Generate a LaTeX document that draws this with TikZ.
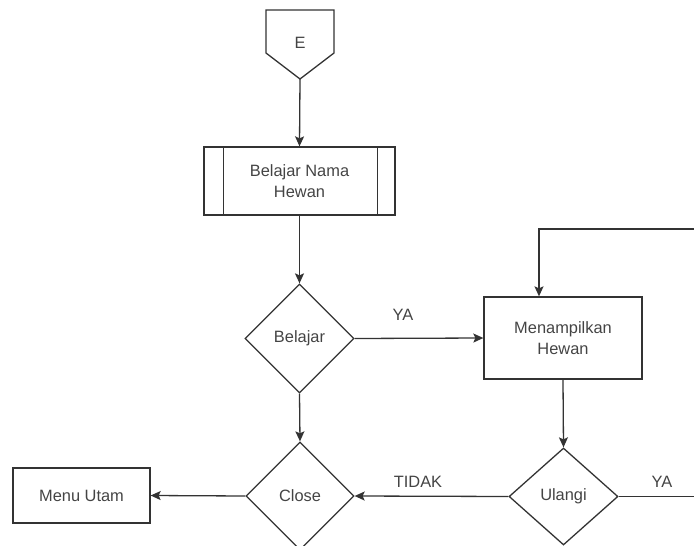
\documentclass[tikz,border=0pt]{standalone}
\usepackage{fontspec}
\setmainfont{Liberation Sans}
\usetikzlibrary{shapes.geometric,arrows.meta}
\definecolor{linec}{HTML}{333333}
\definecolor{textc}{HTML}{444444}
\begin{document}
\begin{tikzpicture}[x=1pt,y=-1pt,
  every node/.style={font=\fontsize{16.4}{21}\selectfont,text=textc},
  box/.style={draw=linec,line width=1.3pt,rectangle,inner sep=0pt,align=center},
  decision/.style={draw=linec,line width=1.3pt,diamond,aspect=1,inner sep=0pt},
  lbl/.style={inner sep=0pt},
  flow/.style={draw=linec,line width=1.3pt,-{Stealth[length=10pt,width=9pt,inset=2pt]}},
  wire/.style={draw=linec,line width=1.3pt}]
\clip (0,0) rectangle (694,546);

% off-page connector E
\draw[wire,line join=miter] (266,10) -- (334,10) -- (334,53) -- (300,79) -- (266,53) -- cycle;
\node[lbl] (E) at (300,43) {E};
\coordinate (Etip) at (300,79);

% predefined process
\node[box,minimum width=191pt,minimum height=68pt] (learn) at (299.5,181) {Belajar Nama\\Hewan};
\draw[wire] ([xshift=20pt]learn.north west) -- ([xshift=20pt]learn.south west);
\draw[wire] ([xshift=-18pt]learn.north east) -- ([xshift=-18pt]learn.south east);

% decisions
\node[decision,minimum width=109pt,minimum height=109pt] (belajar) at (299.5,338.5) {Belajar};
\node[decision,minimum width=108pt,minimum height=108pt] (close) at (300,496) {Close};
\node[decision,minimum width=109pt,minimum height=97pt] (ulangi) at (563.5,496.5) {Ulangi};

% process boxes
\node[box,minimum width=158pt,minimum height=82pt] (show) at (563,338) {Menampilkan\\Hewan};
\node[box,minimum width=137pt,minimum height=55pt] (menu) at (81.5,495.5) {Menu Utam};

% loose ends leaving the frame
\coordinate (loopin) at (700,229);
\coordinate (yaout) at (700,496.5);

% connectors
\draw[flow] (Etip) -- (learn.north);
\draw[flow] (learn.south) -- (belajar.north);
\draw[flow] (belajar.east) -- (show.west);
\draw[flow] (belajar.south) -- (close.north);
\draw[flow] (loopin) -| ([xshift=-24pt]show.north);
\draw[flow] (show.south) -- (ulangi.north);
\draw[flow] (ulangi.west) -- (close.east);
\draw[flow] (close.west) -- (menu.east);
\draw[wire] (ulangi.east) -- (yaout);

% branch labels
\node[lbl] (ya1) at (403,315) {YA};
\node[lbl] (tidak) at (418,482) {TIDAK};
\node[lbl] (ya2) at (662,482) {YA};
\end{tikzpicture}
\end{document}
